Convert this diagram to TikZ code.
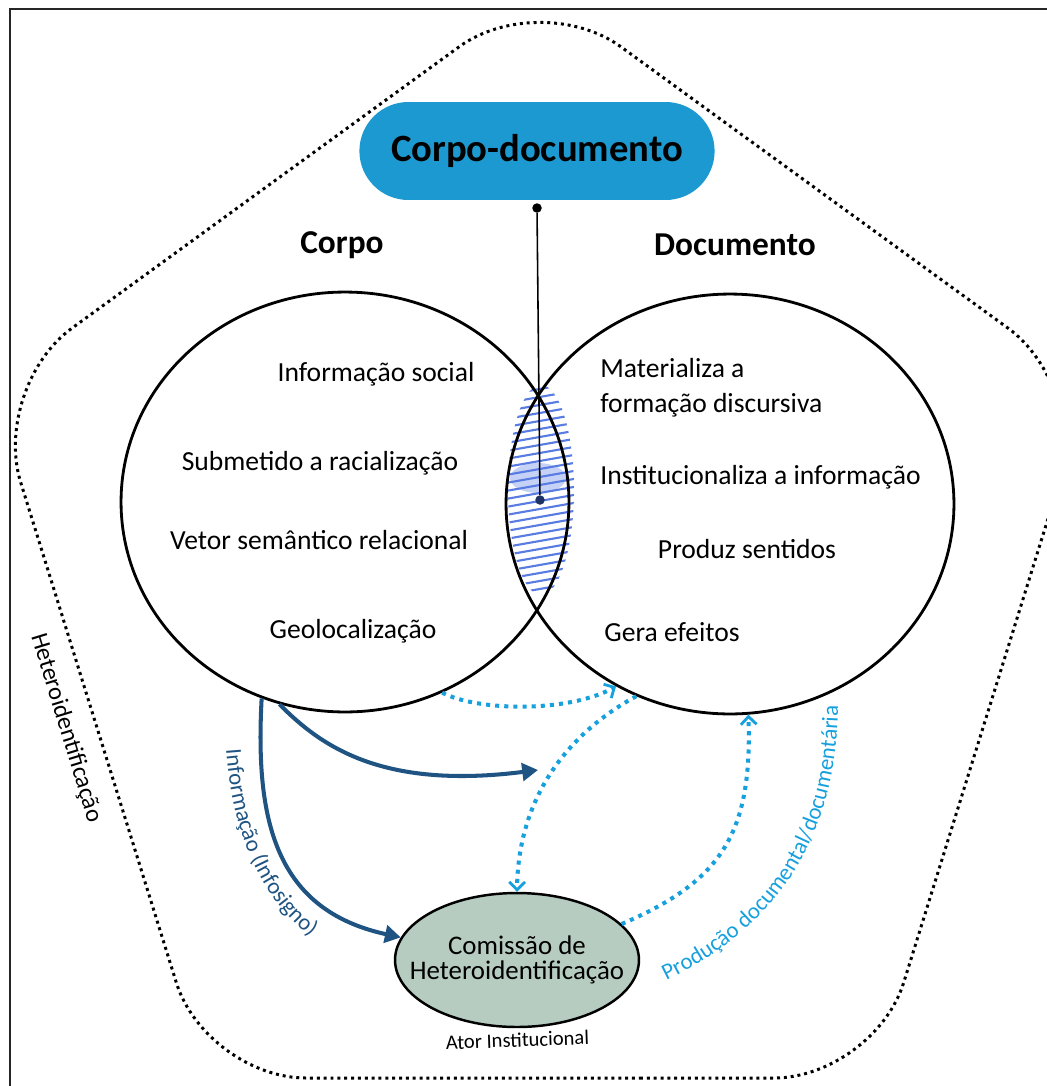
\documentclass[tikz,border=0pt]{standalone}
\usepackage{fontspec}
\setmainfont{Carlito}
\usetikzlibrary{shapes.geometric,shapes.misc,arrows.meta,decorations.text,positioning}

\definecolor{pillblue}{RGB}{28,153,208}
\definecolor{navy}{RGB}{31,84,130}
\definecolor{skyblue}{RGB}{22,160,221}
\definecolor{hatchblue}{RGB}{88,124,226}
\definecolor{sage}{RGB}{182,204,192}
\definecolor{dotnavy}{RGB}{30,50,100}

\tikzstyle{circ} = [ellipse, draw=black, line width=1.6pt, minimum width=8.96cm, minimum height=8.4cm, inner sep=0pt]
\tikzstyle{head} = [font=\bfseries\fontsize{19}{23}\selectfont]
\tikzstyle{item} = [inner sep=0pt]
\tikzstyle{pin} = [circle, inner sep=0pt, minimum size=0.19cm]
\tikzstyle{flow} = [draw=navy, line width=2.3pt, -{Triangle[length=9pt,width=10pt]}]
\tikzstyle{relation} = [draw=skyblue, line width=2.3pt, dash pattern=on 2.3pt off 2.9pt, -{Straight Barb[length=4.5pt,width=9pt,line width=1.6pt]}]

\begin{document}
\begin{tikzpicture}[x=0.02cm, y=-0.02cm, font=\fontsize{15.7}{19.9}\selectfont]
\useasboundingbox (0,0) rectangle (1047,1086);
\clip (0,0) rectangle (1047,1086);

% frame and boundary
\draw[line width=1.4pt, black!85] (10,1086) -- (10,9) -- (1047,9);
\draw[line width=1.7pt, dash pattern=on 1.7pt off 2.2pt, rounded corners=2cm]
  (540,1078) -- (874,1078) -- (1089,387) -- (540,-12) -- (-9,387) -- (206,1078) -- cycle;
\node[rotate=-73, font=\fontsize{14}{16}\selectfont] (hetero) at (66,728) {Heteroidentificação};

% hatched intersection
\begin{scope}
  \clip (541,490) ellipse [x radius=33, y radius=105];
  \foreach \k in {0,...,30}
    \draw[hatchblue, line width=1.2pt] (500,372+\k*8) -- (585,357+\k*8);
  \fill[hatchblue, opacity=0.35] (538,478) ellipse [x radius=28, y radius=15];
\end{scope}

\node[circ] (corpo) at (345,502) {};
\node[circ] (documento) at (730,504) {};

\node[head] (corpolabel) at (342,245) {Corpo};
\node[head] (doclabel) at (735,245) {Documento};

\node[item] (c1) at (376,374) {Informação social};
\node[item] (c2) at (320,463) {Submetido a racialização};
\node[item] (c3) at (319,540) {Vetor semântico relacional};
\node[item] (c4) at (353,631) {Geolocalização};

\node[item, anchor=west, align=left] (d1) at (600,388) {Materializa a\\formação discursiva};
\node[item, anchor=west] (d2) at (600,477) {Institucionaliza a informação};
\node[item] (d3) at (747,549) {Produz sentidos};
\node[item] (d4) at (672,632) {Gera efeitos};

\node[rounded rectangle, fill=pillblue, minimum width=7.34cm, minimum height=1.96cm,
  font=\bfseries\fontsize{22}{26}\selectfont] (corpodoc) at (537,151) {Corpo-documento};

\node[pin, fill=black] (topdot) at (537,208) {};
\node[pin, fill=dotnavy] (lensdot) at (540,500) {};
\draw[line width=0.9pt] (topdot) -- (lensdot);

\node[ellipse, draw=black, line width=1.4pt, fill=sage, minimum width=4.88cm, minimum height=2.68cm] (comissao) at (517,960) {};
\node[align=center, font=\fontsize{15.3}{14.5}\selectfont] (comtext) at (comissao) {Comissão de\\Heteroidentificação};
\node[below=-1pt of comissao, rotate=2, font=\fontsize{11.7}{13}\selectfont] (ator) {Ator Institucional};

\coordinate (flowtip) at (538,770);

\draw[flow] (corpo.247) .. controls (255,820) and (275,910) .. (comissao.169);
\draw[flow] (corpo.252) .. controls (320,745) and (380,790) .. (flowtip);

\draw[relation] (corpo.297) .. controls (480,712) and (570,712) .. (documento.238);
\draw[relation] (documento.244) .. controls (565,735) and (518,800) .. (comissao.90);
\draw[relation] (comissao.19) .. controls (725,880) and (752,830) .. (documento.275);

\path[decorate, decoration={text along path, text align=center,
  text={|\fontsize{13}{15}\selectfont\color{navy}|Informação (Infosigno)}}]
  (226,748) .. controls (232,835) and (262,900) .. (312,938);
\path[decorate, decoration={text along path, text align=center,
  text={|\fontsize{13}{15}\selectfont\color{skyblue}|Produção  documental/documentária}}]
  (650,988) .. controls (765,938) and (842,850) .. (838,688);

\end{tikzpicture}
\end{document}
